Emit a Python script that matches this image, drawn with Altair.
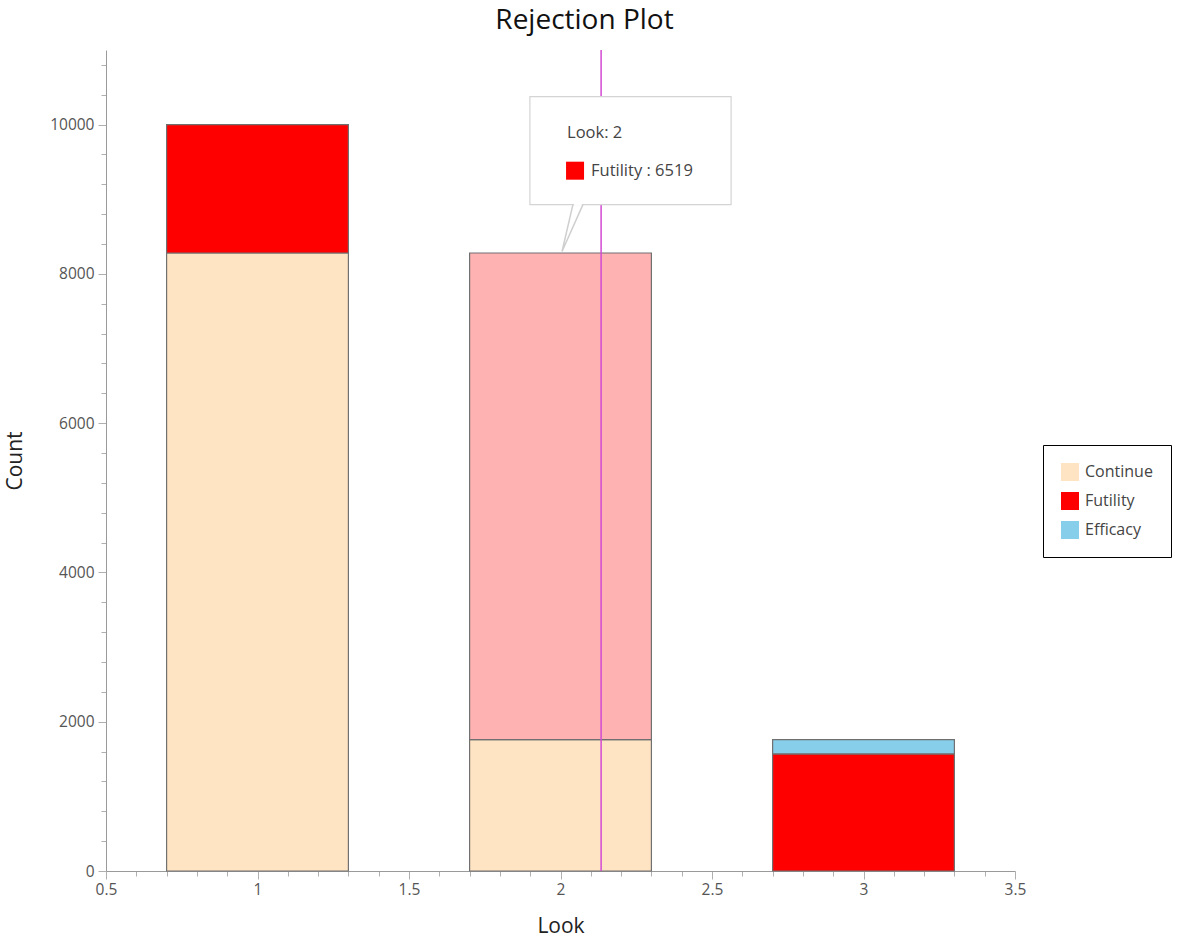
import altair as alt
import pandas as pd

# Counts per interim look and outcome
looks = [1, 2, 3]
outcomes = ["Continue", "Futility", "Efficacy"]
continue_counts = [8280, 1761, 0]
futility_counts = [1720, 6519, 1570]
efficacy_counts = [0, 0, 191]
colors = ["#FFE4C4", "#FF0000", "#87CEEB"]

bar_half_width = 0.3
hover_look = 2
hover_outcome = "Futility"
cursor_x = 2.134

FONT = "Open Sans"

rows = []
for i, lk in enumerate(looks):
    base = 0
    for oc, vals in zip(outcomes, [continue_counts, futility_counts, efficacy_counts]):
        v = vals[i]
        if v > 0:
            rows.append({
                "Look": lk, "Outcome": oc, "Count": v,
                "y0": base, "y1": base + v,
                "x0": lk - bar_half_width, "x1": lk + bar_half_width,
                "hover": (lk == hover_look and oc == hover_outcome),
            })
        base += v
bars_df = pd.DataFrame(rows)

x_scale = alt.Scale(domain=[0.5, 3.5], nice=False, zero=False)
y_scale = alt.Scale(domain=[0, 11000], nice=False)

x_major = "abs(datum.value * 2 - round(datum.value * 2)) < 1e-6"
y_major = "datum.value % 2000 === 0"

x_axis = alt.Axis(
    title="Look",
    values=[round(0.5 + 0.1 * k, 1) for k in range(31)],
    tickCount=100,
    labelExpr=f"{x_major} ? format(datum.value, '~g') : ''",
    tickSize={"condition": {"test": x_major, "value": 8}, "value": 5},
    labelOverlap=False, grid=False, domainColor="#9a9a9a", tickColor="#b0b0b0",
    labelColor="#555555", labelFontSize=15.5, labelFont=FONT, labelPadding=3,
    titleFont=FONT, titleFontSize=21, titleFontWeight="normal", titleColor="#222222",
    titlePadding=18, labelFlush=False,
)
y_axis = alt.Axis(
    title="Count",
    values=list(range(0, 11000, 400)),
    tickCount=100,
    labelExpr=f"{y_major} ? format(datum.value, 'd') : ''",
    tickSize={"condition": {"test": y_major, "value": 8}, "value": 5},
    labelOverlap=False, grid=False, domainColor="#9a9a9a", tickColor="#b0b0b0",
    labelColor="#555555", labelFontSize=15.5, labelFont=FONT, labelPadding=4,
    titleFont=FONT, titleFontSize=21, titleFontWeight="normal", titleColor="#222222",
    titlePadding=24,
)

bars = alt.Chart(bars_df).mark_rect(stroke="#707070", strokeWidth=1.2).encode(
    x=alt.X("x0:Q", scale=x_scale, axis=x_axis),
    x2="x1:Q",
    y=alt.Y("y0:Q", scale=y_scale, axis=y_axis),
    y2="y1:Q",
    color=alt.Color(
        "Outcome:N",
        scale=alt.Scale(domain=outcomes, range=colors),
        legend=alt.Legend(
            title=None, orient="none", legendX=937, legendY=395,
            strokeColor="black", fillColor="white", padding=18,
            symbolType="square", symbolSize=324, symbolStrokeWidth=0,
            symbolOpacity=1, rowPadding=11, labelFontSize=16, labelFont=FONT,
            labelColor="#444444", labelOffset=6, cornerRadius=0,
        ),
    ),
    fillOpacity=alt.condition("datum.hover", alt.value(0.3), alt.value(1.0)),
)

# Cursor line
cursor = alt.Chart(pd.DataFrame({"x": [cursor_x]})).mark_rule(
    color="#D24BD2", strokeWidth=1.5
).encode(x="x:Q", y=alt.value(0), y2=alt.value(821))

# Hover callout
box_df = pd.DataFrame({"x0": [1.899], "x1": [2.563], "y0": [8928], "y1": [10375]})
box = alt.Chart(box_df).mark_rect(fill="white", stroke="#d4d4d4", strokeWidth=1.2).encode(
    x="x0:Q", x2="x1:Q", y="y0:Q", y2="y1:Q"
)
pointer_df = pd.DataFrame({
    "x": [2.041, 2.005, 2.074],
    "y": [8928, 8300, 8928],
    "o": [0, 1, 2],
})
pointer = alt.Chart(pointer_df).mark_line(color="#cfcfcf", strokeWidth=1.5).encode(
    x="x:Q", y="y:Q", order="o:Q"
)
gap = alt.Chart(pd.DataFrame({"x": [2.045], "x2": [2.070], "y": [8928]})).mark_rule(
    color="white", strokeWidth=2
).encode(x="x:Q", x2="x2:Q", y="y:Q")

hover_value = int(bars_df.loc[bars_df["hover"], "Count"].iloc[0])
label_df = pd.DataFrame({
    "x": [2.0215, 2.1007],
    "y": [9893, 9383],
    "t": [f"Look: {hover_look}", f"{hover_outcome} : {hover_value}"],
})
labels = alt.Chart(label_df).mark_text(
    align="left", baseline="middle", fontSize=16.5, font=FONT, color="#444444"
).encode(x="x:Q", y="y:Q", text="t:N")
swatch = alt.Chart(pd.DataFrame({"x": [2.048], "y": [9383]})).mark_square(
    size=324, color="#FF0000", opacity=1
).encode(x="x:Q", y="y:Q")

chart = alt.layer(bars, cursor, box, pointer, gap, labels, swatch).properties(
    width=909, height=821,
    title=alt.Title("Rejection Plot", fontSize=28, font=FONT, fontWeight="normal",
                    color="#111111", anchor="middle", dx=24, offset=14),
    autosize=alt.AutoSizeParams(type="none"),
    padding={"left": 106, "top": 50, "right": 162, "bottom": 72},
).configure_view(stroke=None)

chart.save("out.html", embed_options={"renderer": "svg", "actions": False})
